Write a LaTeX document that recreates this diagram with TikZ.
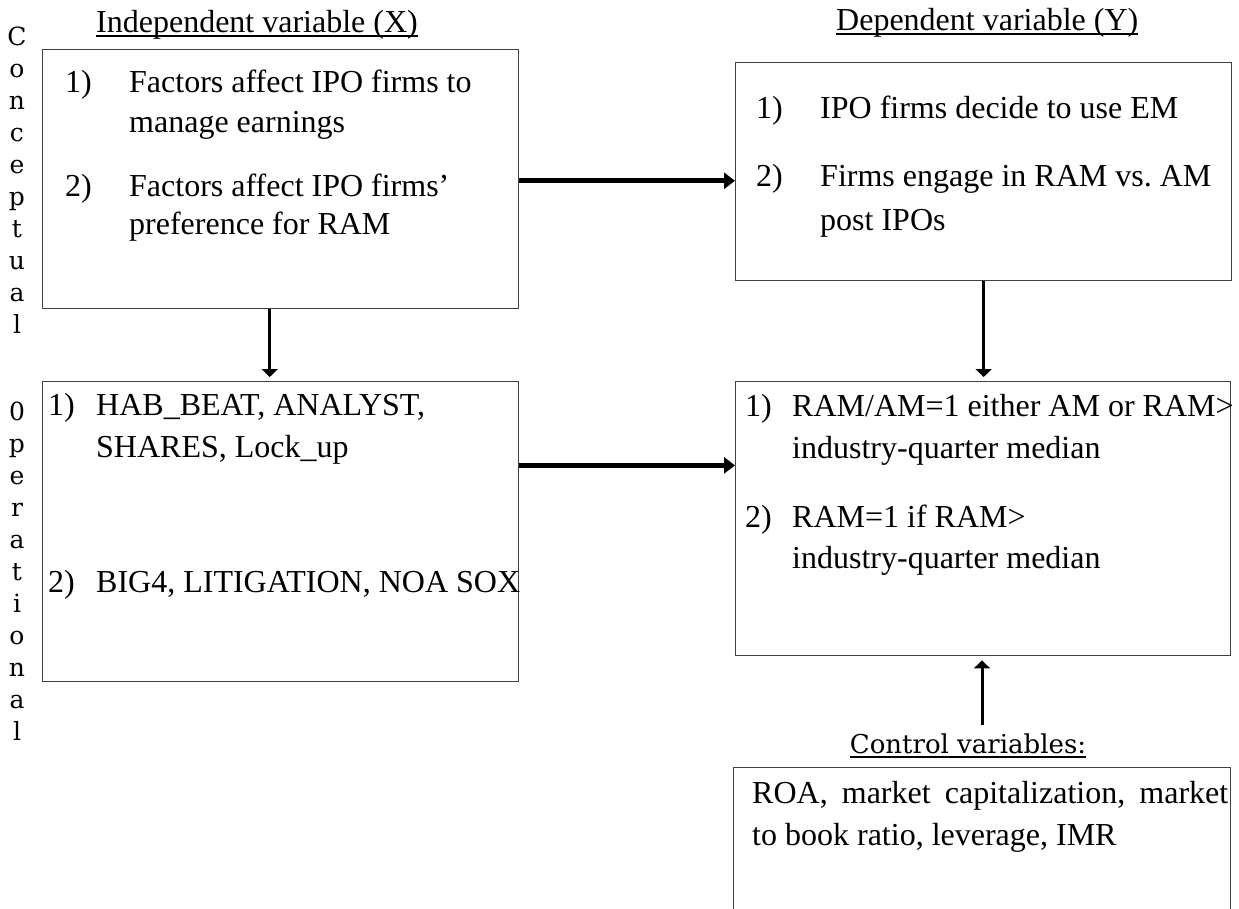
\documentclass[tikz,border=0pt]{standalone}
\usepackage{fontspec}
\setmainfont{Liberation Serif}
\newfontfamily\lblfont{DejaVu Serif}
\usetikzlibrary{arrows.meta,calc}
\frenchspacing
\begin{document}
\begin{tikzpicture}[x=1pt,y=-1pt,
  box/.style={draw=black!75, line width=1.4pt, anchor=north west, inner sep=0pt},
  txt/.style={anchor=base west, inner sep=0pt, font=\fontsize{32}{38}\selectfont},
  ttl/.style={anchor=base west, inner sep=0pt, font=\fontsize{32}{38}\selectfont},
  lbl/.style={anchor=base, inner sep=0pt, font=\lblfont\fontsize{25}{30}\selectfont},
  uline/.style={line width=1.8pt},
  harr/.style={line width=5pt, -{Triangle[width=16pt,length=11pt]}},
  varr/.style={line width=3pt, -{Triangle[width=16pt,length=8pt]}, shorten >=4pt},
]
\useasboundingbox (0,0) rectangle (1239,908);
\clip (0,0) rectangle (1239,908);

% boxes
\node[box, minimum width=476pt, minimum height=259pt] (b1) at (42,49) {};
\node[box, minimum width=496pt, minimum height=218pt] (b2) at (735,62) {};
\node[box, minimum width=476pt, minimum height=300pt] (b3) at (42,381) {};
\node[box, minimum width=495pt, minimum height=274pt] (b4) at (735,381) {};
\node[box, minimum width=497pt, minimum height=200pt] (b5) at (733,767) {};

% titles
\node[ttl] (tX) at (96,32) {Independent variable (X)};
\draw[uline] ([yshift=-4pt]tX.base west) -- ([yshift=-4pt]tX.base east);
\node[ttl] (tY) at (836,30) {Dependent variable (Y)};
\draw[uline] ([yshift=-4pt]tY.base west) -- ([yshift=-4pt]tY.base east);
\node[lbl, font=\lblfont\fontsize{26}{30}\selectfont] (tC) at (968,753) {Control variables:};
\draw[uline] ([yshift=-4pt]tC.base west) -- ([yshift=-4pt]tC.base east);

% side labels
\foreach \ch [count=\i from 0] in {C,o,n,c,e,p,t,u,a,l}
  \node[lbl] (cl\i) at (17,45+32*\i) {\ch};
\foreach \ch [count=\i from 0] in {0,p,e,r,a,t,i,o,n,a,l}
  \node[lbl] (ol\i) at (17,420+32*\i) {\ch};

% box 1 text
\node[txt] (b1n1) at (65,92) {1)};
\node[txt] (b1a) at (129,92) {Factors affect IPO firms to};
\node[txt] (b1b) at (129,132) {manage earnings};
\node[txt] (b1n2) at (65,196) {2)};
\node[txt] (b1c) at (129,196) {Factors affect IPO firms’};
\node[txt] (b1d) at (129,234) {preference for RAM};

% box 2 text
\node[txt] (b2n1) at (756,118) {1)};
\node[txt] (b2a) at (820,118) {IPO firms decide to use EM};
\node[txt] (b2n2) at (756,186) {2)};
\node[txt] (b2b) at (820,186) {Firms engage in RAM vs. AM};
\node[txt] (b2c) at (820,230) {post IPOs};

% box 3 text
\node[txt] (b3n1) at (48,415) {1)};
\node[txt] (b3a) at (96,415) {HAB\_BEAT, ANALYST,};
\node[txt] (b3b) at (96,457) {SHARES, Lock\_up};
\node[txt] (b3n2) at (48,592) {2)};
\node[txt] (b3c) at (96,592) {BIG4, LITIGATION, NOA SOX};

% box 4 text
\node[txt] (b4n1) at (745,416) {1)};
\node[txt] (b4a) at (792,416) {RAM/AM=1 either AM or RAM>};
\node[txt] (b4b) at (792,458) {industry-quarter median};
\node[txt] (b4n2) at (745,527) {2)};
\node[txt] (b4c) at (792,527) {RAM=1 if RAM>};
\node[txt] (b4d) at (792,568) {industry-quarter median};

% box 5 text
\node[txt] (b5a) at (752,803) {\hbox to 476pt{ROA,\hfill market\hfill capitalization,\hfill market}};
\node[txt] (b5b) at (752,845) {to book ratio, leverage, IMR};

% connectors
\coordinate (h1) at ($(b1.north east)!0.506!(b1.south east)$);
\draw[harr] (h1) -- (h1 -| b2.west);
\coordinate (h2) at ($(b3.north east)!0.28!(b3.south east)$);
\draw[harr] (h2) -- (h2 -| b4.west);
\coordinate (v1) at ($(b1.south west)!0.477!(b1.south east)$);
\draw[varr] (v1) -- (v1 |- b3.north);
\draw[varr] (b2.south) -- (b2.south |- b4.north);
\coordinate (ct) at (982,725);
\draw[varr] (ct) -- (ct |- b4.south);
\end{tikzpicture}
\end{document}
